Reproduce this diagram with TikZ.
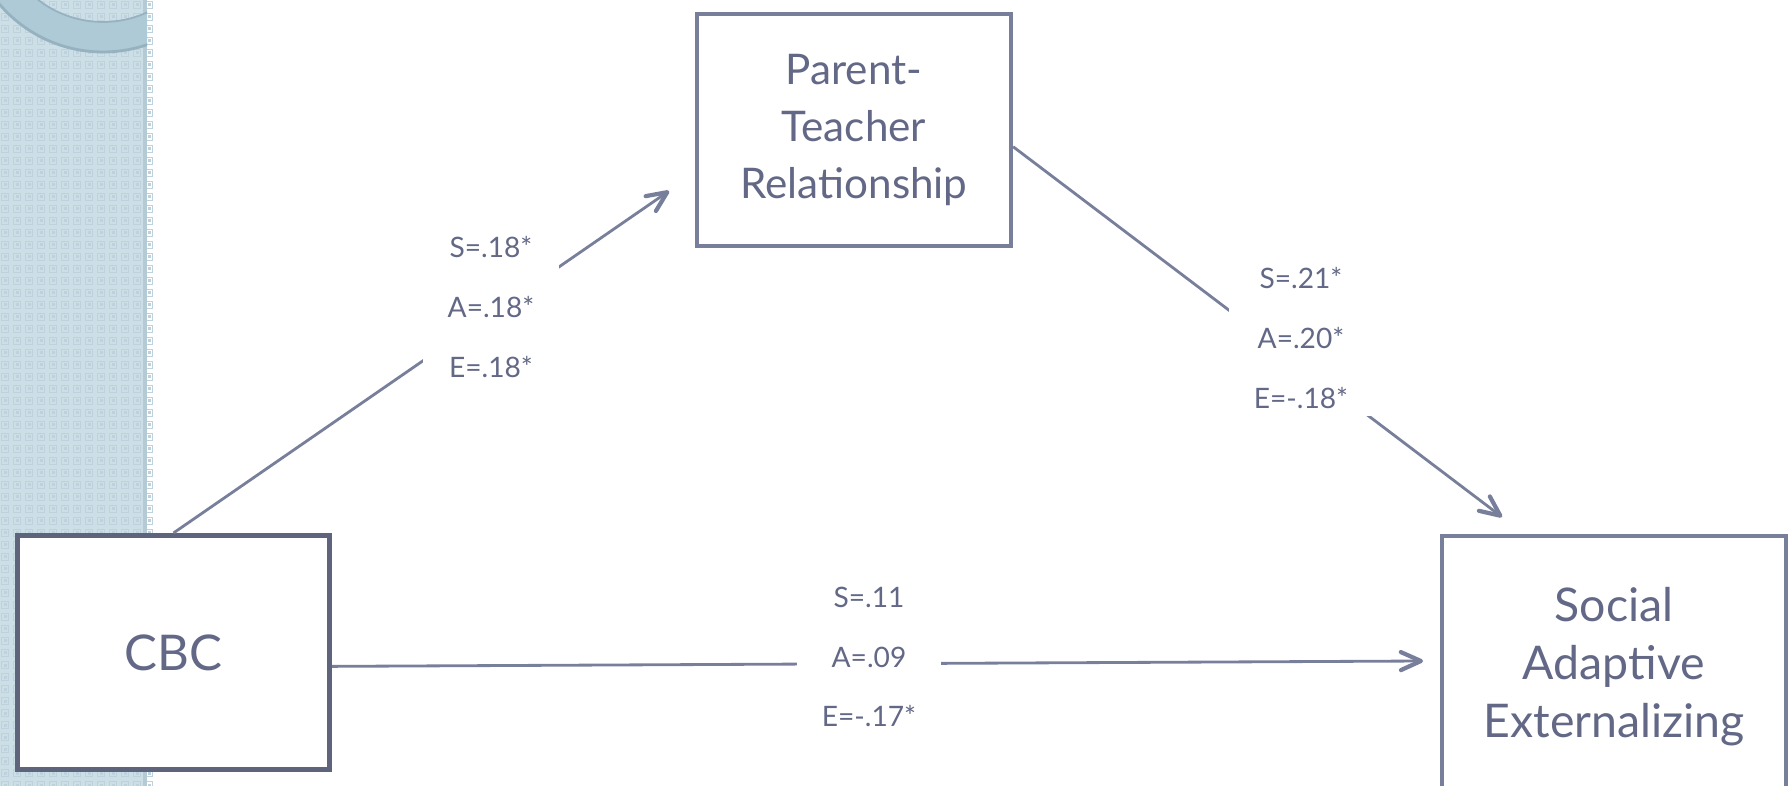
\documentclass[tikz,border=0pt]{standalone}
\usepackage{fontspec}
\setmainfont{Lato}
\usetikzlibrary{arrows.meta, positioning}
\definecolor{inkblue}{RGB}{98,104,134}
\definecolor{edgeblue}{RGB}{120,127,155}
\definecolor{darkedge}{RGB}{94,100,124}
\definecolor{stripbg}{RGB}{204,223,231}
\definecolor{stripsq}{RGB}{189,210,220}
\definecolor{stripshade}{RGB}{180,202,213}
\definecolor{ringfill}{RGB}{174,202,214}
\definecolor{ringedge}{RGB}{150,178,192}

\begin{document}
\begin{tikzpicture}[x=0.01cm, y=-0.01cm,
  var/.style={rectangle, draw=edgeblue, line width=1.15pt, fill=white,
              text=inkblue, align=center},
  coef/.style={fill=white, text=inkblue, font=\fontsize{8}{17}\selectfont,
               align=center, inner xsep=7pt, inner ysep=2pt},
  link/.style={draw=edgeblue, line width=0.8pt,
               -{Straight Barb[length=2mm, width=1.8mm, line width=1.2pt, round]}}
]
\useasboundingbox (0,0) rectangle (1792,786);
\clip (0,0) rectangle (1792,786);
% side strip
\fill[stripbg] (0,0) rectangle (147,786);
\foreach \i in {0,...,12}{
  \foreach \j in {0,...,65}{
    \draw[stripsq, line width=0.5pt] (12*\i+1.5,12*\j+1.5) rectangle ++(7,7);
    \fill[stripsq] (12*\i+3.5,12*\j+3.5) rectangle ++(3,3);
  }
}
\fill[stripshade] (143,0) rectangle (147,786);
\begin{scope}
  \clip (0,0) rectangle (147,786);
  \fill[ringfill, even odd rule] (103,-84) circle[radius=136]
    (103,-84) circle[radius=106];
  \draw[ringedge, line width=0.8pt] (103,-84) circle[radius=136];
  \draw[ringedge, line width=0.5pt] (103,-84) circle[radius=106];
\end{scope}
% variables
\node[var, draw=darkedge, line width=1.4pt, minimum width=3.12cm,
      minimum height=2.34cm, font=\fontsize{14}{16}\selectfont]
  (cbc) at (173.5,652.5) {CBC};
\node[var, minimum width=3.14cm, minimum height=2.32cm,
      font=\fontsize{12}{16.2}\selectfont]
  (ptr) at (854,130) {Parent-\\Teacher\\Relationship};
\node[var, minimum width=3.44cm, minimum height=2.62cm,
      font=\fontsize{13.2}{16.5}\selectfont]
  (sae) at (1614,667) {Social\\Adaptive\\Externalizing};
% arrow ends
\coordinate (ptin) at (669,191);
\coordinate (saein) at (1502,517);
\coordinate (saeleft) at (1423,661);
% paths
\draw[link] (cbc.north) -- (ptin);
\draw[link] (ptr.-6) -- (saein);
\draw[link] (cbc.-5) -- (saeleft);
% coefficients
\node[coef] (cA) at (491,307) {S=.18*\\A=.18*\\E=.18*};
\node[coef] (cB) at (1301,338) {S=.21*\\A=.20*\\E=-.18*};
\node[coef] (cC) at (869,657) {S=.11\\A=.09\\E=-.17*};
\end{tikzpicture}
\end{document}
